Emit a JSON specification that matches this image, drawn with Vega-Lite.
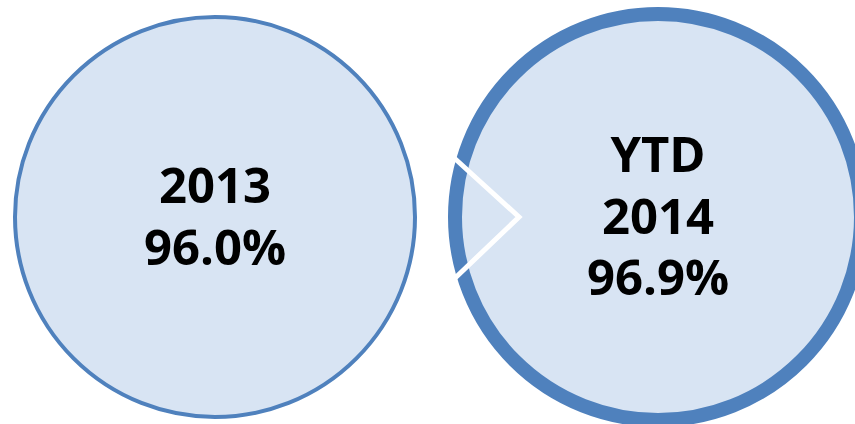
{
  "$schema": "https://vega.github.io/schema/vega-lite/v6.json",
  "width": 855,
  "height": 424,
  "padding": 0,
  "autosize": {"type": "none"},
  "background": "white",
  "config": {"view": {"stroke": null}},
  "datasets": {
    "circles": [
      {"period": "2013", "cx": 215, "cy": 217, "area": 160000, "ring": 4},
      {"period": "YTD 2014", "cx": 658, "cy": 217, "area": 164836, "ring": 14}
    ],
    "labels": [
      {"line": "2013", "x": 215, "y": 203},
      {"line": "96.0%", "x": 215, "y": 265},
      {"line": "YTD", "x": 658, "y": 172},
      {"line": "2014", "x": 658, "y": 234},
      {"line": "96.9%", "x": 658, "y": 295}
    ],
    "chevron": [
      {"order": 1, "x": 452, "y": 156},
      {"order": 2, "x": 519, "y": 217},
      {"order": 3, "x": 452, "y": 281}
    ]
  },
  "layer": [
    {
      "data": {"name": "circles"},
      "mark": {"type": "point", "shape": "circle", "filled": false, "fill": "#d8e4f3", "fillOpacity": 1, "stroke": "#4f81bd", "strokeOpacity": 1, "opacity": 1},
      "encoding": {
        "x": {"field": "cx", "type": "quantitative", "scale": {"domain": [0, 855]}, "axis": null},
        "y": {"field": "cy", "type": "quantitative", "scale": {"domain": [0, 424], "reverse": true}, "axis": null},
        "size": {"field": "area", "type": "quantitative", "scale": null, "legend": null},
        "strokeWidth": {"field": "ring", "type": "quantitative", "scale": null, "legend": null}
      }
    },
    {
      "data": {"name": "chevron"},
      "mark": {"type": "line", "stroke": "white", "strokeWidth": 5, "strokeCap": "butt", "strokeJoin": "miter"},
      "encoding": {
        "x": {"field": "x", "type": "quantitative", "scale": {"domain": [0, 855]}, "axis": null},
        "y": {"field": "y", "type": "quantitative", "scale": {"domain": [0, 424], "reverse": true}, "axis": null},
        "order": {"field": "order", "type": "quantitative"}
      }
    },
    {
      "data": {"name": "labels"},
      "mark": {"type": "text", "font": "Open Sans", "fontWeight": "bold", "fontSize": 49, "align": "center", "baseline": "alphabetic", "color": "black"},
      "encoding": {
        "x": {"field": "x", "type": "quantitative", "scale": {"domain": [0, 855]}, "axis": null},
        "y": {"field": "y", "type": "quantitative", "scale": {"domain": [0, 424], "reverse": true}, "axis": null},
        "text": {"field": "line", "type": "nominal"}
      }
    }
  ]
}
